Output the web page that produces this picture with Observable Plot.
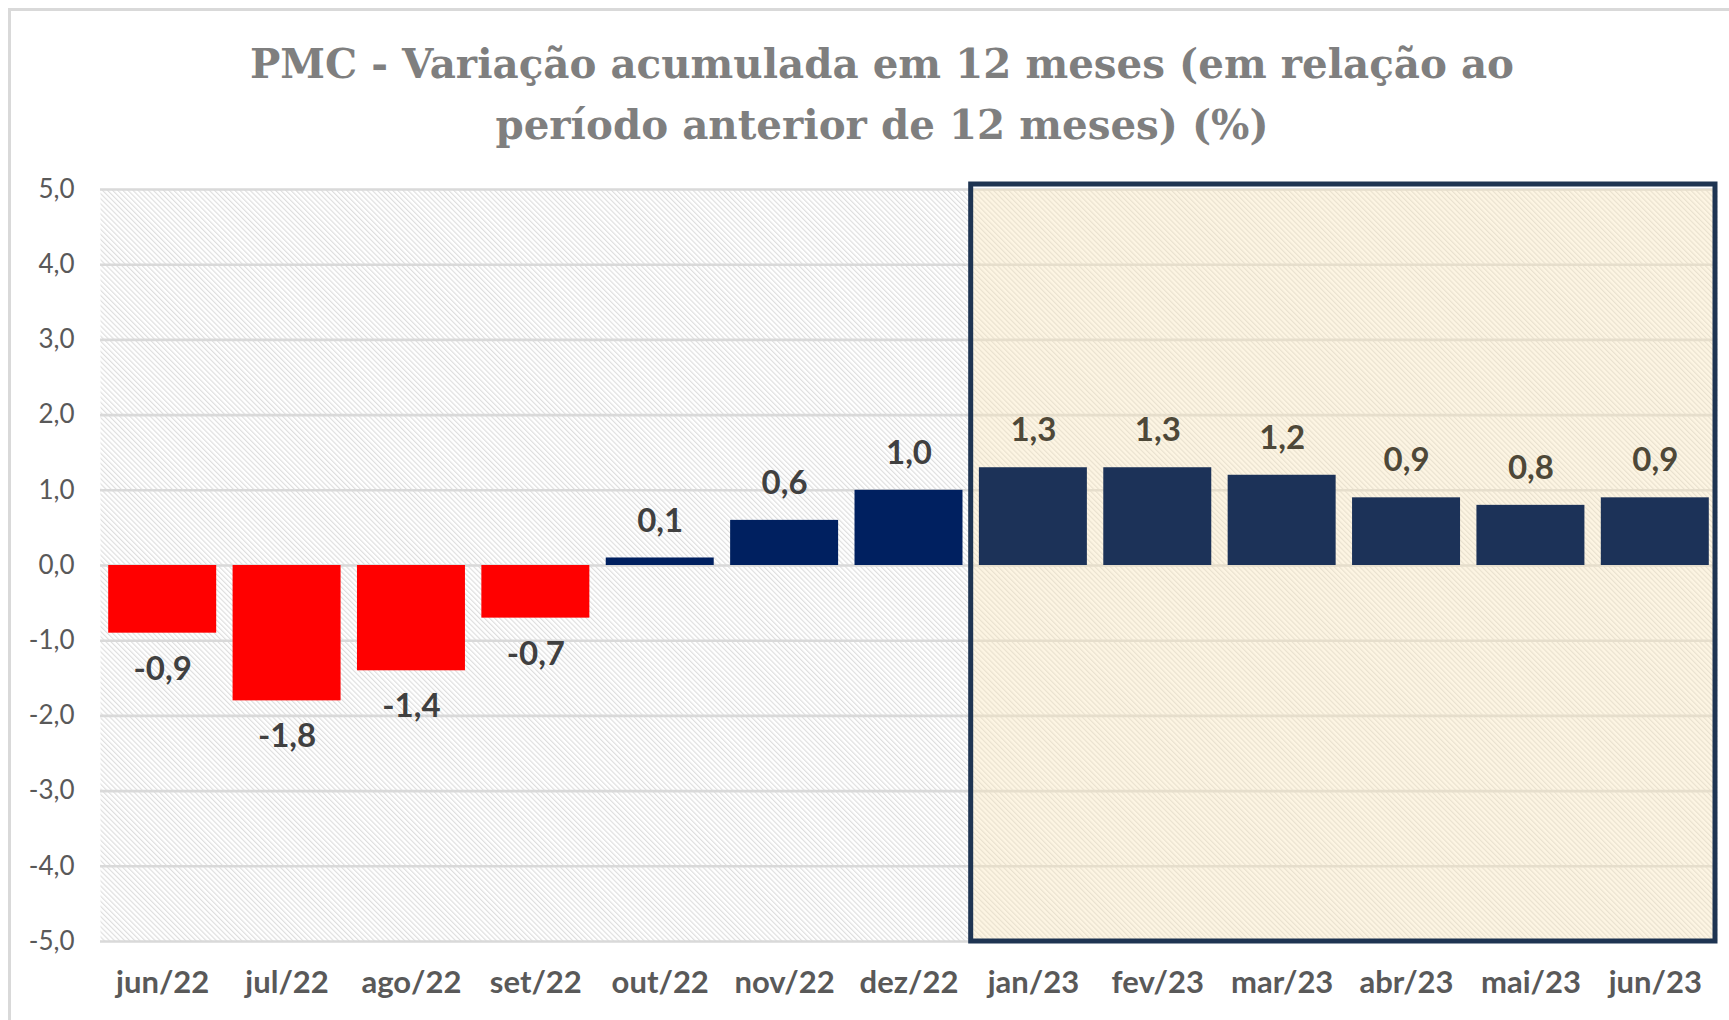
<!DOCTYPE html>
<html>
<head>
<meta charset="utf-8">
<script src="https://cdn.jsdelivr.net/npm/d3@7"></script>
<script src="https://cdn.jsdelivr.net/npm/@observablehq/plot@0.6"></script>
<style>
  html, body { margin: 0; padding: 0; background: #fff; }
  body { width: 1729px; height: 1020px; overflow: hidden; position: relative; font-family: Lato, "Noto Sans", sans-serif; }
  #frame { position: absolute; left: 8px; top: 8px; width: 1800px; height: 1100px;
           border-left: 3px solid #D9D9D9; border-top: 3px solid #D9D9D9; box-sizing: border-box; }
  #title { position: absolute; left: 0; top: 34px; width: 1764px; text-align: center;
           font-family: "DejaVu Serif", "Liberation Serif", serif; font-weight: bold;
           font-size: 40.4px; line-height: 61px; color: #7F7F7F; }
  #chart { position: absolute; left: 0; top: 160px; }
</style>
</head>
<body>
<svg width="0" height="0" style="position:absolute">
  <defs>
    <pattern id="hatch" patternUnits="userSpaceOnUse" width="3.6" height="10" patternTransform="rotate(-45)">
      <rect width="3.6" height="10" fill="#ffffff"></rect>
      <line x1="0.6" y1="0" x2="0.6" y2="10" stroke="#DCDCDC" stroke-width="1.1"></line>
    </pattern>
  </defs>
</svg>
<div id="frame"></div>
<div id="title">PMC - Variação acumulada em 12 meses (em relação ao<br>período anterior de 12 meses) (%)</div>
<div id="chart"></div>
<script>
// ---- data ----
const months = ["jun/22","jul/22","ago/22","set/22","out/22","nov/22","dez/22","jan/23","fev/23","mar/23","abr/23","mai/23","jun/23"];
const values = [-0.9, -1.8, -1.4, -0.7, 0.1, 0.6, 1.0, 1.3, 1.3, 1.2, 0.9, 0.8, 0.9];
const highlighted = ["jan/23","fev/23","mar/23","abr/23","mai/23","jun/23"];
const yTicks = [-5, -4, -3, -2, -1, 0, 1, 2, 3, 4, 5];
const yDomain = [-5, 5];

const data = months.map((m, i) => ({month: m, value: values[i], hl: highlighted.includes(m)}));
const boxData = highlighted.map(m => ({month: m}));

const fmt = v => v.toFixed(1).replace(".", ",");
const barColor = d => d.value < 0 ? "#FF0000" : (d.hl ? "#1C3258" : "#002060");
const labelColor = d => d.hl ? "#4E4838" : "#404040";

const chart = Plot.plot({
  width: 1729,
  height: 860,
  marginTop: 29,
  marginBottom: 79,
  marginLeft: 100,
  marginRight: 12,
  style: {background: "transparent", fontFamily: "Lato, 'Noto Sans', sans-serif", overflow: "visible"},
  x: {type: "band", domain: months, padding: 0, round: false, label: null},
  y: {domain: yDomain, label: null},
  marks: [
    Plot.frame({fill: "url(#hatch)", stroke: null}),
    Plot.ruleY(yTicks, {stroke: "#D9D9D9", strokeWidth: 2.6}),
    Plot.barY(boxData, {x: "month", y1: yDomain[0], y2: yDomain[1], fill: "#FBE7B8", fillOpacity: 0.4, inset: 0, shapeRendering: "crispEdges"}),
    Plot.barY(data, {x: "month", y: "value", fill: barColor, insetLeft: 8.2, insetRight: 8.2}),
    Plot.text(data.filter(d => d.value >= 0), {x: "month", y: "value", text: d => fmt(d.value), dy: -37,
      fill: labelColor, fontSize: 33, fontWeight: "bold", fontFamily: "Lato"}),
    Plot.text(data.filter(d => d.value < 0), {x: "month", y: "value", text: d => fmt(d.value), dy: 36,
      fill: labelColor, fontSize: 33, fontWeight: "bold", fontFamily: "Lato"}),
    Plot.axisY({ticks: yTicks, tickFormat: fmt, tickSize: 0, tickPadding: 26, fontSize: 26,
      fill: "#595959", fontFamily: "Lato", label: null}),
    Plot.axisX({tickSize: 0, tickPadding: 29, fontSize: 31, fontWeight: "bold",
      fill: "#595959", fontFamily: "Lato", label: null})
  ]
});

document.getElementById("chart").appendChild(chart);

// highlighted period border, positioned through Plot's scales
const sx = chart.scale("x"), sy = chart.scale("y");
let xs = sx.apply ? (v => sx.apply(v)) : d3.scaleBand(sx.domain, sx.range).paddingInner(sx.paddingInner || 0).paddingOuter(sx.paddingOuter || 0).align(sx.align ?? 0.5);
let ys = sy.apply ? (v => sy.apply(v)) : d3.scaleLinear(sy.domain, sy.range);
const bw = sx.bandwidth;
const x0 = xs(highlighted[0]);
const x1 = xs(highlighted[highlighted.length - 1]) + bw;
const yTop = ys(yDomain[1]), yBot = ys(yDomain[0]);
const ns = "http://www.w3.org/2000/svg";
const r = document.createElementNS(ns, "rect");
r.setAttribute("x", x0);
r.setAttribute("y", yTop - 5);
r.setAttribute("width", x1 - x0 - 2);
r.setAttribute("height", yBot - yTop + 5);
r.setAttribute("fill", "none");
r.setAttribute("stroke", "#1E3452");
r.setAttribute("stroke-width", 5);
chart.appendChild(r);
</script>
</body>
</html>
